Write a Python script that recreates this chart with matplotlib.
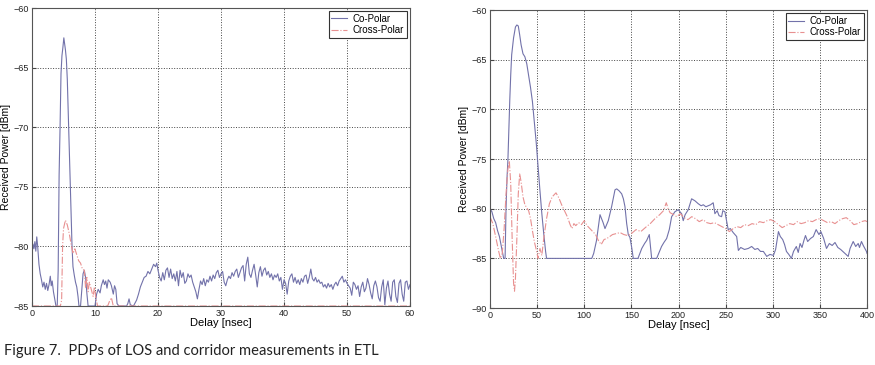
import numpy as np
import matplotlib.pyplot as plt

plt.rcParams['font.family'] = ['Liberation Sans', 'DejaVu Sans']

# --- Datos: PDP LOS (izquierda) ---
los_co_t_head = [0.0, 0.15, 0.3, 0.45, 0.6, 0.75, 0.9, 1.1, 1.3, 1.5, 1.7, 1.9, 2.1, 2.3, 2.5, 2.7,
                 2.9, 3.05, 3.2, 3.4, 3.6, 3.8, 4.0, 4.15, 4.3, 4.45, 4.6, 4.75, 4.9, 5.05, 5.15, 5.3,
                 5.45, 5.6, 5.75, 5.9, 6.05, 6.2, 6.35, 6.5, 6.7, 6.9, 7.1, 7.3, 7.45, 7.7, 7.9, 8.1,
                 8.3, 8.5, 8.7, 8.9, 9.5, 10.0, 10.25, 10.5, 10.8, 11.0, 11.3, 11.5, 11.7, 11.9, 12.1,
                 12.4, 12.6, 12.9, 13.1, 13.3, 13.5, 13.8, 15.0, 15.2, 15.4, 15.6, 16.1, 16.6, 16.9,
                 17.2, 17.5, 17.8, 18.1, 18.4, 18.7, 19.0, 19.3, 19.6, 19.8, 20.0]
los_co_v_head = [-80.6, -79.8, -80.2, -79.6, -80.4, -79.2, -80.0, -81.5, -82.3, -82.8, -83.4, -83.0,
                 -83.6, -83.1, -83.7, -83.2, -82.5, -83.3, -82.9, -83.8, -84.4, -85.0, -85.0, -82.0,
                 -74.0, -70.0, -65.5, -64.0, -63.3, -62.5, -62.9, -63.5, -64.3, -66.0, -68.8, -71.5,
                 -74.5, -77.5, -80.0, -81.7, -82.4, -83.0, -83.4, -84.2, -85.0, -85.0, -83.6, -82.3,
                 -82.0, -82.6, -83.9, -85.0, -85.0, -85.0, -84.0, -83.6, -83.9, -83.3, -82.8, -83.2,
                 -82.9, -83.5, -82.8, -83.0, -83.3, -84.0, -83.3, -83.6, -84.8, -85.0, -85.0, -84.8,
                 -84.4, -84.9, -85.0, -84.5, -84.0, -83.4, -83.0, -82.6, -82.5, -82.1, -82.3, -81.9,
                 -81.5, -81.7, -81.4, -82.0]
# de 20.25 a 60 ns cada 0.25 ns
los_co_v_tail = [
    -82.6, -82.9, -82.2, -82.8, -82.0, -81.8, -82.6, -81.9,
    -82.7, -82.3, -82.9, -82.1, -83.3, -82.0, -82.6, -82.2,
    -83.1, -82.9, -82.3, -82.6, -82.4, -83.0, -83.4, -83.8,
    -84.4, -83.6, -82.9, -83.2, -82.7, -83.3, -82.8, -83.0,
    -82.5, -82.9, -82.4, -82.7, -82.2, -82.0, -82.6, -82.3,
    -82.1, -83.0, -83.3, -82.8, -82.5, -82.7, -82.2, -82.5,
    -82.1, -81.9, -82.6, -82.2, -81.8, -81.6, -82.9, -81.5,
    -80.9, -82.3, -82.6, -82.0, -81.5, -82.4, -83.4, -82.2,
    -81.7, -82.5, -82.0, -81.8, -82.4, -82.1, -82.6, -82.3,
    -82.8, -82.4, -82.6, -82.3, -82.9, -82.6, -83.6, -82.8,
    -83.1, -84.0, -82.9, -82.5, -82.3, -83.0, -82.6, -83.1,
    -82.8, -83.2, -82.7, -83.0, -82.5, -82.4, -83.1, -82.6,
    -81.9, -82.7, -82.9, -82.6, -83.0, -82.8, -83.1, -83.0,
    -83.4, -83.2, -83.5, -83.1, -83.4, -83.2, -83.6, -83.2,
    -83.0, -83.3, -82.9, -82.7, -82.5, -83.0, -82.8, -83.1,
    -83.3, -83.5, -84.1, -83.0, -83.2, -83.6, -83.3, -84.2,
    -83.4, -83.0, -83.8, -83.5, -82.7, -83.2, -83.9, -84.4,
    -83.3, -82.9, -83.4, -84.3, -84.6, -83.4, -82.8, -84.9,
    -83.5, -82.9, -84.0, -84.6, -83.0, -82.8, -84.2, -84.7,
    -83.1, -82.8, -84.0, -84.6, -83.0, -82.9, -83.6, -83.2]
los_co_t_tail = np.arange(1, len(los_co_v_tail) + 1) * 0.25 + 20.0

los_x_t = [0, 4.5, 4.7, 4.85, 5.0, 5.3, 5.6, 5.9, 6.2, 6.5, 6.8, 7.1, 7.4, 7.7, 8.0, 8.3, 8.5, 8.7,
           8.9, 9.1, 9.4, 9.7, 9.9, 10.1, 10.4, 12.0, 12.3, 12.6, 12.9, 60]
los_x_v = [-85, -85, -84.5, -80, -78.5, -77.8, -78.2, -78.9, -79.8, -80.6, -80.2, -80.7, -81.2,
           -81.4, -81.9, -82.0, -83.5, -82.6, -83.8, -83.0, -83.6, -84.2, -83.4, -84.2, -85, -85,
           -84.6, -84.3, -85, -85]

# --- Datos: PDP pasillo (derecha) ---
cor_co_t = [0, 2, 4, 6, 8, 10, 12, 13.5, 14.5, 16, 17, 18, 19, 20, 21, 22, 23, 25, 27, 28.5, 30,
            31.5, 33, 35, 37, 39, 41, 43, 45, 47, 49, 51, 53, 55, 57, 59, 60, 108, 110, 113, 116.7,
            120, 122, 125.5, 129, 132.6, 134.4, 137, 139.7, 141.5, 143.2, 145, 146.7, 148.5, 150.5,
            152, 157, 161, 164, 166.2, 169, 171.5, 176.8, 179, 182, 184.5, 187.4, 190.2, 192.7, 196.2,
            199.7, 203.3, 205, 207, 210.3, 213.9, 217.4, 221, 224, 226.3, 229, 231.5, 234, 236.8,
            238.6, 241, 243, 245.7, 247, 249.2, 252.7, 255, 258, 261.7, 263.5, 266, 270, 274, 277.6,
            281, 284, 287, 290, 293.6, 297, 300.7, 303, 306, 308, 310.5, 312.5, 314.5, 317, 319.8,
            322, 325, 327, 329, 331, 333, 334.7, 337, 340, 343, 346, 349, 351, 354, 357, 360, 363,
            366, 369, 372, 376.5, 380, 382, 385.3, 388, 390.6, 392, 394.1, 396, 399.4, 400]
cor_co_v = [-80.0, -80.3, -81.0, -81.4, -82.2, -82.8, -83.8, -84.6, -85.0, -85.0, -80.0, -77.0,
            -75.1, -72.0, -69.0, -66.5, -64.5, -62.8, -61.7, -61.5, -61.6, -62.5, -63.5, -64.4,
            -64.7, -65.4, -66.6, -67.8, -69.2, -71.2, -73.3, -75.8, -78.2, -80.5, -82.5, -84.3,
            -85.0, -85.0, -84.5, -83.2, -80.6, -81.4, -82.0, -81.2, -79.8, -78.1, -78.0, -78.2,
            -78.5, -79.0, -79.8, -81.5, -82.6, -82.9, -84.0, -85.0, -85.0, -84.0, -83.5, -83.2,
            -82.6, -85.0, -85.0, -84.5, -83.8, -83.4, -83.0, -82.1, -80.8, -80.3, -80.1, -80.5,
            -81.2, -80.6, -80.1, -79.0, -79.2, -79.5, -79.7, -79.6, -79.8, -79.7, -79.6, -79.4,
            -80.5, -80.2, -80.7, -80.8, -80.2, -80.3, -82.1, -82.0, -82.4, -82.8, -84.2, -83.9,
            -84.1, -84.0, -83.8, -84.1, -84.0, -84.3, -84.3, -84.8, -84.6, -84.7, -84.1, -82.3,
            -82.8, -83.1, -83.6, -84.3, -84.6, -85.0, -84.3, -83.8, -84.4, -83.5, -83.9, -83.2,
            -82.7, -83.3, -83.0, -82.8, -82.1, -82.6, -82.3, -83.0, -84.0, -83.5, -83.7, -83.4,
            -83.9, -84.1, -84.5, -84.8, -84.0, -83.3, -83.8, -83.5, -83.9, -83.3, -83.7, -84.3,
            -84.5]

cor_x_t = [0, 3, 6, 9, 11, 13, 15, 17, 19, 20.5, 22, 23.5, 25, 26, 27, 28.5, 30, 31.5, 33, 35, 37,
           39, 41, 43, 45, 47, 49.5, 51, 53, 55, 57, 60, 63, 66, 70, 73, 76, 79, 82, 85, 87, 89,
           91, 94, 97, 100, 103, 106, 109, 112, 115, 118, 121, 124, 127, 130, 134, 138, 142, 146,
           150, 155, 160, 166, 170, 175, 180, 184, 187, 189, 191, 195, 198, 202, 206, 210, 214,
           218, 222, 226, 230, 234, 238, 242, 246, 250, 254, 258, 262, 266, 270, 274, 278, 282,
           286, 290, 294, 298, 302, 306, 310, 314, 318, 322, 326, 330, 334, 338, 342, 346, 350,
           354, 358, 362, 366, 370, 374, 378, 382, 386, 390, 394, 398, 400]
cor_x_v = [-80.8, -81.5, -82.8, -84.2, -85.0, -84.5, -82.0, -78.5, -76.0, -75.2, -77.5, -83.0,
           -87.5, -88.3, -87.0, -83.0, -78.5, -76.5, -77.3, -78.8, -79.6, -79.9, -80.2, -81.0,
           -82.2, -83.3, -84.3, -85.0, -84.0, -84.7, -83.0, -81.0, -79.5, -78.8, -78.4, -78.9,
           -79.6, -80.2, -80.8, -81.6, -82.0, -81.5, -81.7, -81.4, -81.6, -81.2, -81.7, -82.0,
           -82.3, -82.6, -83.2, -83.6, -83.1, -83.0, -82.8, -82.6, -82.5, -82.4, -82.6, -82.7,
           -82.5, -82.1, -82.3, -81.8, -81.5, -81.0, -80.6, -80.2, -79.4, -80.0, -80.4, -80.6,
           -80.8, -80.5, -80.9, -81.1, -80.8, -81.0, -81.3, -81.1, -81.4, -81.5, -81.4, -81.6,
           -81.8, -82.0, -82.3, -82.0, -81.8, -81.9, -81.6, -81.7, -81.5, -81.6, -81.3, -81.4,
           -81.2, -81.1, -81.3, -81.6, -81.9, -81.7, -81.5, -81.6, -81.3, -81.5, -81.4, -81.2,
           -81.3, -81.1, -81.0, -81.2, -81.4, -81.3, -81.5, -81.2, -81.0, -80.9, -81.2, -81.6,
           -81.5, -81.3, -81.2, -81.3]

color_co = '#7272aa'
color_x = '#e89090'

fig = plt.figure(figsize=(8.75, 3.65), dpi=100)

# Grafica izquierda (LOS)
ax1 = fig.add_axes([0.0366, 0.1616, 0.432, 0.8164])
ax1.plot(list(los_co_t_head) + list(los_co_t_tail), los_co_v_head + los_co_v_tail,
         color=color_co, lw=0.8, label='Co-Polar')
ax1.plot(los_x_t, los_x_v, color=color_x, lw=0.8, ls='-.', label='Cross-Polar')
ax1.set_xlim(0, 60)
ax1.set_ylim(-85, -60)
ax1.set_xticks(range(0, 61, 10))
ax1.set_yticks(range(-85, -59, 5))

# Grafica derecha (pasillo)
ax2 = fig.add_axes([0.56, 0.156, 0.4309, 0.8164])
ax2.plot(cor_co_t, cor_co_v, color=color_co, lw=0.8, label='Co-Polar')
ax2.plot(cor_x_t, cor_x_v, color=color_x, lw=0.8, ls='-.', label='Cross-Polar')
ax2.set_xlim(0, 400)
ax2.set_ylim(-90, -60)
ax2.set_xticks(range(0, 401, 50))
ax2.set_yticks(range(-90, -59, 5))

for ax in (ax1, ax2):
    ax.grid(True, ls=':', color='#444444', lw=0.7)
    ax.tick_params(direction='in', labelsize=6.5, length=3, color='#444444', pad=2,
                   labelcolor='#222222')
    for s in ax.spines.values():
        s.set_color('#555555')
        s.set_linewidth(0.8)
    ax.set_xlabel('Delay [nsec]', fontsize=8, labelpad=0)
    ax.set_ylabel('Received Power [dBm]', fontsize=7.5, labelpad=2)
    leg = ax.legend(loc='upper right', fontsize=7, fancybox=False, framealpha=1,
                    edgecolor='#333333', handlelength=1.6, handletextpad=0.6, borderpad=0.3,
                    labelspacing=0.15, borderaxespad=0.3)
    leg.get_frame().set_linewidth(0.8)

fig.text(0.004, 0.028, 'Figure 7.  PDPs of LOS and corridor measurements in ETL',
         fontsize=10.6, family=['Lato', 'DejaVu Sans'], color='#222222')

fig.savefig('out.png', dpi=100)
